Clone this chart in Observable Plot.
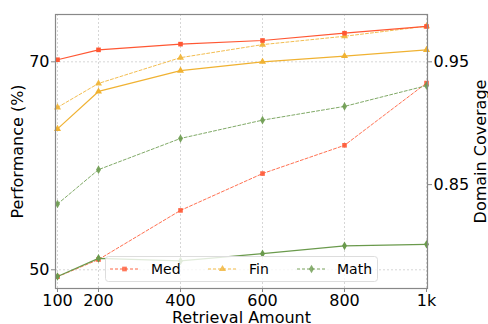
<!DOCTYPE html>
<html>
<head>
<meta charset="utf-8">
<script src="https://cdn.jsdelivr.net/npm/d3@7"></script>
<script src="https://cdn.jsdelivr.net/npm/@observablehq/plot@0.6"></script>
<style>
  body { margin: 0; background: #fff; }
  #wrap { position: relative; width: 488px; height: 324px; }
  #legend { position: absolute; left: 0; top: 0; }
</style>
</head>
<body>
<div id="wrap"></div>
<script>
// ---- data ----
const amounts = [100, 200, 400, 600, 800, 1000];
const tickLabels = ["100", "200", "400", "600", "800", "1k"];
const domains = ["Med", "Fin", "Math"];
const colors = ["#ff5733", "#f0b232", "#6a9a4c"];
const symbols = ["square", "triangle", "diamond"];
const perfMed = [70.2, 71.15, 71.7, 72.05, 72.75, 73.4];
const perfFin = [63.55, 67.15, 69.15, 70.0, 70.55, 71.15];
const perfMath = [49.35, 51.1, 50.85, 51.55, 52.3, 52.45];
const covMed = [0.775, 0.789, 0.829, 0.859, 0.882, 0.9327];
const covFin = [0.9129, 0.9324, 0.9534, 0.964, 0.9708, 0.979];
const covMath = [0.8342, 0.8622, 0.8876, 0.9025, 0.9137, 0.9306];
const perfTicks = [50, 70];
const covTicks = [0.85, 0.95];

// coverage (right axis) expressed on the performance (left) scale
const covToPerf = d3.scaleLinear([0.85, 0.95], [58.19, 70]);

const perfSeries = [perfMed, perfFin, perfMath];
const covSeries = [covMed, covFin, covMath];
const perfRows = [], covRows = [];
domains.forEach((dom, k) => {
  amounts.forEach((a, i) => {
    perfRows.push({domain: dom, x: a, y: perfSeries[k][i]});
    covRows.push({domain: dom, x: a, y: covToPerf(covSeries[k][i])});
  });
});

const font = "DejaVu Sans";
const chart = Plot.plot({
  width: 488, height: 324,
  marginLeft: 55, marginRight: 61, marginTop: 14, marginBottom: 36,
  style: {fontFamily: font, fontSize: "16px", color: "#000", background: "#fff"},
  x: {type: "linear", domain: [95.1, 1002.4]},
  y: {domain: [48.2, 74.55]},
  color: {domain: domains, range: colors},
  symbol: {domain: domains, range: symbols},
  marks: [
    Plot.gridX(amounts, {stroke: "#bbb", strokeOpacity: 0.6, strokeDasharray: "2,2"}),
    Plot.gridY(perfTicks, {stroke: "#bbb", strokeOpacity: 0.6, strokeDasharray: "2,2"}),
    Plot.line(covRows, {x: "x", y: "y", z: "domain", stroke: "domain", strokeWidth: 1, strokeDasharray: "3,2", strokeOpacity: 0.85}),
    Plot.dot(covRows, {x: "x", y: "y", fill: "domain", symbol: "domain", r: 2.6, fillOpacity: 0.9}),
    Plot.line(perfRows, {x: "x", y: "y", z: "domain", stroke: "domain", strokeWidth: 1.2}),
    Plot.dot(perfRows, {x: "x", y: "y", fill: "domain", symbol: "domain", r: 2.6}),
    Plot.frame({stroke: "#888", strokeWidth: 1.2}),
    Plot.axisX(amounts, {anchor: "bottom", tickSize: 4, tickPadding: 2, stroke: "#888",
      tickFormat: (d) => tickLabels[amounts.indexOf(d)], fontSize: 16,
      label: "Retrieval Amount", labelAnchor: "center", labelArrow: false, labelOffset: 34}),
    Plot.axisY(perfTicks, {anchor: "left", tickSize: 4, tickPadding: 2, stroke: "#888", fontSize: 16,
      label: "Performance (%)", labelAnchor: "center", labelArrow: false, labelOffset: 44}),
    Plot.axisY(covTicks.map(c => covToPerf(c)), {anchor: "right", tickSize: 4, tickPadding: 2, stroke: "#888", fontSize: 16,
      tickFormat: (d) => d3.format(".2f")(covToPerf.invert(d)),
      label: "Domain Coverage", labelAnchor: "center", labelArrow: false, labelOffset: 58})
  ]
});
const wrap = document.getElementById("wrap");
wrap.appendChild(chart);

// ---- legend overlay ----
const lg = d3.select(wrap).append("svg").attr("id", "legend")
  .attr("width", 488).attr("height", 324)
  .style("font-family", font);
lg.append("rect").attr("x", 105.5).attr("y", 256.5).attr("width", 272).attr("height", 25).attr("rx", 3)
  .attr("fill", "#fff").attr("fill-opacity", 0.8).attr("stroke", "#ddd");
const itemX = [110, 208, 297];
domains.forEach((dom, k) => {
  const g = lg.append("g").attr("transform", `translate(${itemX[k]},0)`);
  g.append("line").attr("x1", 0).attr("x2", 29).attr("y1", 269).attr("y2", 269)
    .attr("stroke", colors[k]).attr("stroke-width", 1.3).attr("stroke-dasharray", "3,2").attr("stroke-opacity", 0.6);
  const sym = d3.symbol().type([d3.symbolSquare, d3.symbolTriangle, d3.symbolDiamond][k]).size(22);
  g.append("path").attr("d", sym()).attr("transform", "translate(14.5,269)").attr("fill", colors[k]).attr("fill-opacity", 0.8);
  g.append("text").attr("x", [41, 41, 40][k]).attr("y", 274).attr("font-size", 14).attr("fill", "#000").text(dom);
});
</script>
</body>
</html>
